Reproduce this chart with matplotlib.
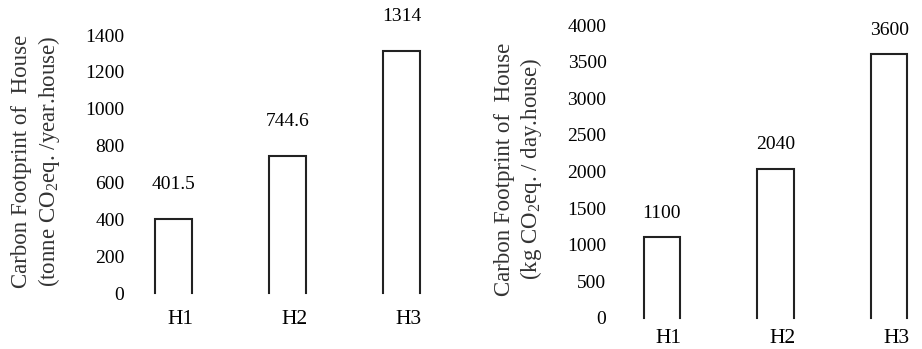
import matplotlib
matplotlib.use("Agg")
import matplotlib.pyplot as plt
import matplotlib.transforms as mtrans

plt.rcParams['font.family'] = ['Liberation Serif', 'DejaVu Serif']
plt.rcParams['mathtext.fontset'] = 'custom'
plt.rcParams['mathtext.rm'] = 'Liberation Serif'
plt.rcParams['mathtext.it'] = 'Liberation Serif:italic'

categories = ['H1', 'H2', 'H3']
annual_values = [401.5, 744.6, 1314]
annual_labels = ['401.5', '744.6', '1314']
daily_values = [1100, 2040, 3600]
daily_labels = ['1100', '2040', '3600']
annual_ticks = [0, 200, 400, 600, 800, 1000, 1200, 1400]
daily_ticks = [0, 500, 1000, 1500, 2000, 2500, 3000, 3500, 4000]

W, H = 922, 349
fig = plt.figure(figsize=(W / 100, H / 100), dpi=100)

def px(l, b, r, t):
    return [l / W, (H - b) / H, (r - l) / W, (b - t) / H]

ax1 = fig.add_axes(px(130, 293, 447, 35))
ax2 = fig.add_axes(px(612, 318, 920, 25))

FS = 14
col = '#222222'
bw = 0.32

def draw(ax, vals, labels, ticks, ylim, xlim, label_off, xpad):
    for i, v in enumerate(vals):
        ax.plot([i - bw / 2, i - bw / 2, i + bw / 2, i + bw / 2], [0, v, v, 0],
                color=col, lw=1.5, solid_joinstyle='miter', clip_on=False)
        ax.annotate(labels[i], (i, v), xytext=(0, label_off), textcoords='offset points',
                    ha='center', va='center', fontsize=FS, color='black', annotation_clip=False)
    ax.set_xlim(*xlim)
    ax.set_ylim(*ylim)
    ax.set_yticks(ticks)
    ax.set_xticks(range(len(categories)))
    ax.set_xticklabels(categories)
    for s in ax.spines.values():
        s.set_visible(False)
    ax.tick_params(axis='both', length=0, labelsize=FS, colors='black')
    ax.tick_params(axis='x', labelsize=15.5)
    ax.tick_params(axis='y', pad=4)
    ax.tick_params(axis='x', pad=xpad)
    off = mtrans.ScaledTranslation(7 / 100, 0, fig.dpi_scale_trans)
    for t in ax.get_xticklabels():
        t.set_transform(t.get_transform() + off)
    ax.patch.set_visible(False)

draw(ax1, annual_values, annual_labels, annual_ticks, (0, 1400), (-0.38, 2.4), 25, 12)
draw(ax2, daily_values, daily_labels, daily_ticks, (0, 4000), (-0.437, 2.27), 17, 8)

YFS = 16.5
fig.text(36.5 / W, (H - 161) / H, 'Carbon Footprint of  House\n(tonne CO$_2$eq. /year.house)',
         rotation=90, ha='center', va='center', fontsize=YFS, color='#333333',
         multialignment='center', linespacing=1.2)
fig.text(519 / W, (H - 169) / H, 'Carbon Footprint of  House\n(kg CO$_2$eq. / day.house)',
         rotation=90, ha='center', va='center', fontsize=YFS, color='#333333',
         multialignment='center', linespacing=1.2)

fig.savefig('out.png', dpi=100)
